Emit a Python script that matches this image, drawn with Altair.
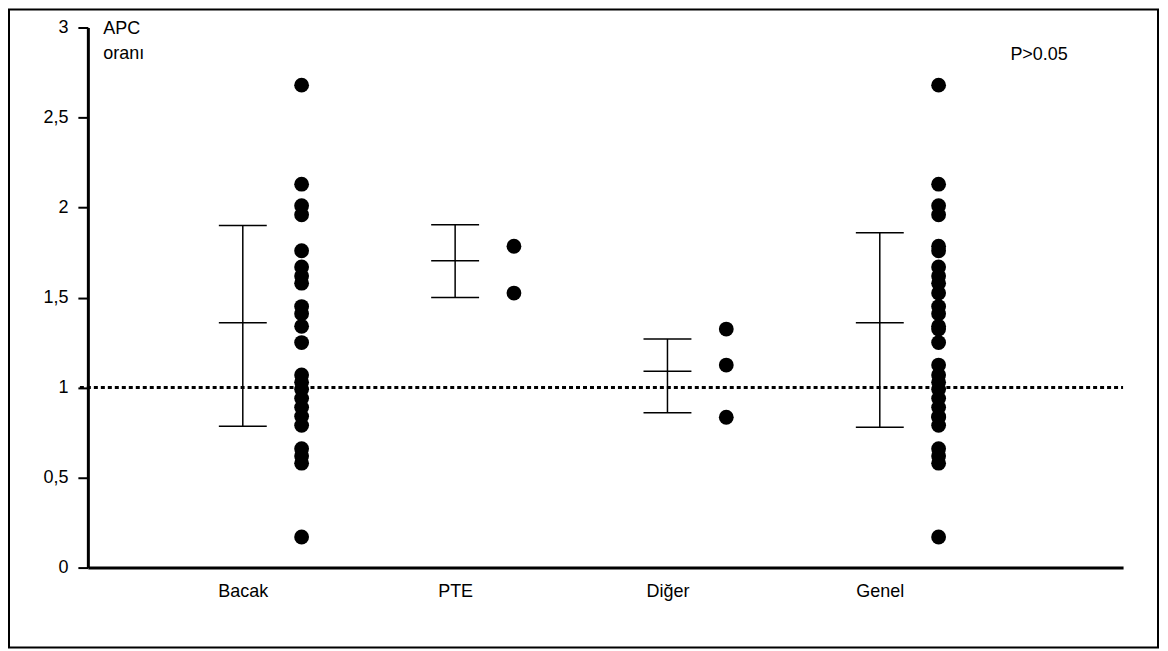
import altair as alt
import pandas as pd

# ---- data ----
cats = ["Bacak", "PTE", "Diğer", "Genel"]
bacak = [2.68, 2.13, 2.01, 1.96, 1.76, 1.67, 1.62, 1.58, 1.45, 1.41, 1.34, 1.25,
         1.07, 1.03, 0.99, 0.94, 0.89, 0.84, 0.79, 0.66, 0.62, 0.58, 0.17]
pte = [1.785, 1.525]
diger = [1.325, 1.125, 0.835]
genel = bacak + pte + diger
means = [1.36, 1.705, 1.09, 1.36]
upper = [1.90, 1.905, 1.27, 1.86]
lower = [0.785, 1.50, 0.86, 0.78]
y_ticks = [0, 0.5, 1, 1.5, 2, 2.5, 3]
ref_level = [1.0]
y_title = ["APC", "oranı"]
p_text = ["P>0.05"]

W, H = 1037, 541
FONT = "Liberation Sans"
FS = 18

rows = []
for i, vals in enumerate([bacak, pte, diger, genel]):
    for v in vals:
        rows.append({"cat": cats[i], "idx": i + 1, "v": v})
pts = pd.DataFrame(rows)
stats = pd.DataFrame({"cat": cats, "idx": list(range(1, len(cats) + 1)),
                      "lo": lower, "mid": means, "hi": upper})

xscale = alt.Scale(domain=[0.2703, 5.1457], nice=False, zero=False)
yscale = alt.Scale(domain=[0, 3], nice=False, zero=False)

label_expr = "[" + ",".join("'" + c + "'" for c in cats) + "][datum.value - 1]"

xaxis = alt.Axis(values=list(range(1, len(cats) + 1)), labelExpr=label_expr,
                 ticks=False, grid=False, domainWidth=3, domainColor="black",
                 labelFontSize=FS, labelFont=FONT, labelColor="black",
                 labelPadding=15, title=None, labelFlush=False, labelOverlap=False)
yaxis = alt.Axis(values=y_ticks, labelExpr="replace(toString(datum.value), '.', ',')",
                 tickSize=10, tickWidth=2, tickColor="black", domainWidth=3,
                 domainColor="black", grid=False, labelFontSize=FS, labelFont=FONT,
                 labelColor="black", labelPadding=10, labelFlush=False,
                 title=y_title, titleAngle=0, titleAlign="left",
                 titleBaseline="alphabetic", titleX=15, titleY=6, titleFontSize=FS,
                 titleFont=FONT, titleFontWeight="normal", titleColor="black",
                 titleLineHeight=25)


def X(field):
    return alt.X(field, type="quantitative", scale=xscale, axis=xaxis)


def Y(field):
    return alt.Y(field, type="quantitative", scale=yscale, axis=yaxis)


frame = alt.Chart(pd.DataFrame({"a": [0]})).mark_rect(
    fill="transparent", stroke="black", strokeWidth=2
).encode(x=alt.value(-79), x2=alt.value(1072), y=alt.value(-18), y2=alt.value(621))

ref = alt.Chart(pd.DataFrame({"ref": ref_level})).mark_rule(
    color="black", strokeWidth=3, strokeDash=[4, 3], strokeCap="butt"
).encode(y=Y("ref"), x=alt.value(-8), x2=alt.value(W))

err = alt.Chart(stats).mark_rule(color="black", strokeWidth=1.5).encode(
    x=X("idx"), y=Y("lo"), y2="hi"
)

caps = alt.Chart(stats).transform_fold(["lo", "mid", "hi"], as_=["k", "val"]).mark_tick(
    orient="horizontal", size=48, thickness=1.5, color="black", opacity=1
).encode(x=X("idx"), y=Y("val"))

dots = alt.Chart(pts).transform_calculate(px="datum.idx + 0.277").mark_circle(
    size=220, color="black", opacity=1
).encode(x=X("px"), y=Y("v"))

ptxt = alt.Chart(pd.DataFrame({"t": p_text})).mark_text(
    align="left", baseline="alphabetic", fontSize=FS, font=FONT, color="black"
).encode(x=alt.datum(4.615), y=alt.datum(2.82), text="t:N")

chart = alt.layer(frame, ref, err, caps, dots, ptxt).properties(
    width=W, height=H,
    autosize=alt.AutoSizeParams(type="none"),
    padding={"left": 80, "top": 19, "right": 37, "bottom": 82},
    background="white",
).configure_view(stroke=None)

chart.save("out.html", embed_options={"renderer": "svg", "actions": False})
